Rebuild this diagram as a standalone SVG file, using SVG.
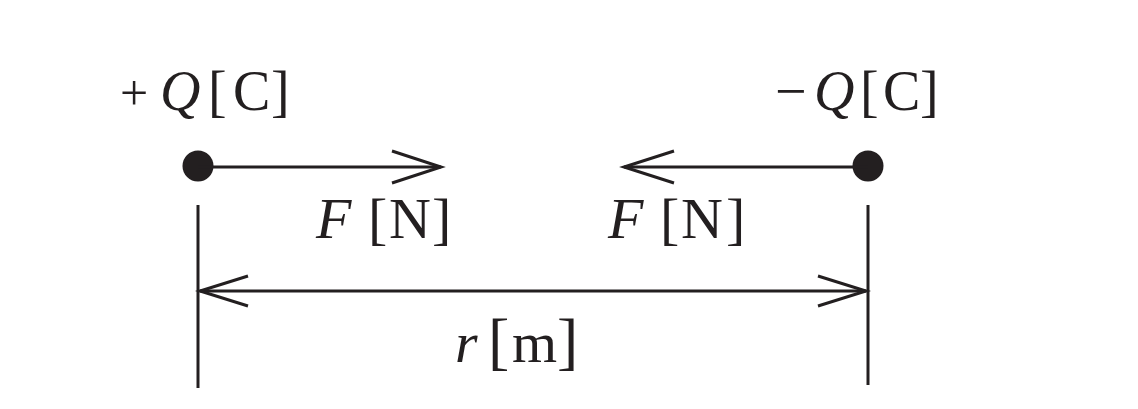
<svg xmlns="http://www.w3.org/2000/svg" width="1138" height="409" viewBox="0 0 1138 409">
<style>
.ln{stroke:#231f20;stroke-width:3;fill:none}
.ah{stroke:#231f20;stroke-width:3;fill:none;stroke-linejoin:miter}
.t{font-family:"Liberation Serif","Times New Roman",serif;font-size:56px;fill:#231f20}
.f{font-size:58px}
.i{font-style:italic}
.s{font-size:50px}
</style>
<rect width="1138" height="409" fill="#fff"/>
<g id="charge-plus">
<circle cx="198" cy="166" r="15.5" fill="#231f20"/>
<text class="t" y="110"><tspan x="120" class="s">+</tspan><tspan x="160" class="i">Q</tspan><tspan x="208">[</tspan><tspan x="233">C</tspan><tspan x="271">]</tspan></text>
</g>
<g id="charge-minus">
<circle cx="868" cy="166" r="15.5" fill="#231f20"/>
<text class="t" y="110"><tspan x="775">−</tspan><tspan x="814" class="i">Q</tspan><tspan x="860">[</tspan><tspan x="883">C</tspan><tspan x="920">]</tspan></text>
</g>
<g id="label-F-left"><text class="t f" y="238"><tspan x="316" class="i">F</tspan><tspan x="368">[</tspan><tspan x="389">N</tspan><tspan x="432">]</tspan></text></g>
<g id="label-F-right"><text class="t f" y="238"><tspan x="608" class="i">F</tspan><tspan x="660">[</tspan><tspan x="681">N</tspan><tspan x="726">]</tspan></text></g>
<g id="label-r"><text class="t f" y="362"><tspan x="455" class="i">r</tspan><tspan x="488" style="font-size:64px">[</tspan><tspan x="512">m</tspan><tspan x="557" style="font-size:64px">]</tspan></text></g>
<g id="connectors">
<line class="ln" x1="198" y1="167" x2="441" y2="167"/>
<polyline class="ah" points="392,151 441,167 392,183"/>
<line class="ln" x1="868" y1="167" x2="624" y2="167"/>
<polyline class="ah" points="674,151 624,167 674,183"/>
<line class="ln" x1="198" y1="205" x2="198" y2="388"/>
<line class="ln" x1="868" y1="205" x2="868" y2="385"/>
<line class="ln" x1="200" y1="291" x2="866" y2="291"/>
<polyline class="ah" points="248,276 200,291 248,306"/>
<polyline class="ah" points="818,276 866,291 818,306"/>
</g>
</svg>
